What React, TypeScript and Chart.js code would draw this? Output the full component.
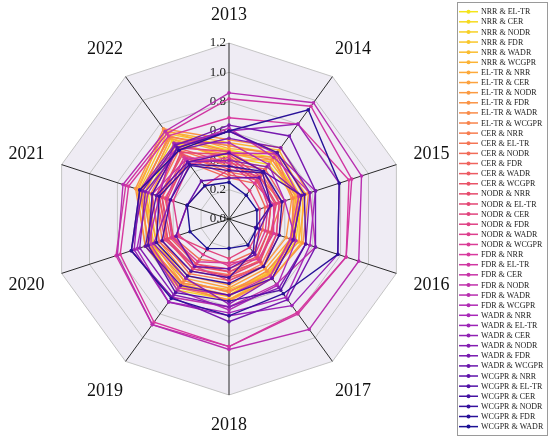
import React, { useEffect, useRef } from "react";
import { Chart, registerables } from "chart.js";

Chart.register(...registerables);

const FONT = "'Times New Roman', 'Liberation Serif', serif";

const years = ["2013", "2014", "2015", "2016", "2017", "2018", "2019", "2020", "2021", "2022"];
const tickValues = [0, 0.2, 0.4, 0.6, 0.8, 1.0, 1.2];

const seriesNames = [
  "NRR & EL-TR", "NRR & CER", "NRR & NODR", "NRR & FDR", "NRR & WADR", "NRR & WCGPR",
  "EL-TR & NRR", "EL-TR & CER", "EL-TR & NODR", "EL-TR & FDR", "EL-TR & WADR", "EL-TR & WCGPR",
  "CER & NRR", "CER & EL-TR", "CER & NODR", "CER & FDR", "CER & WADR", "CER & WCGPR",
  "NODR & NRR", "NODR & EL-TR", "NODR & CER", "NODR & FDR", "NODR & WADR", "NODR & WCGPR",
  "FDR & NRR", "FDR & EL-TR", "FDR & CER", "FDR & NODR", "FDR & WADR", "FDR & WCGPR",
  "WADR & NRR", "WADR & EL-TR", "WADR & CER", "WADR & NODR", "WADR & FDR", "WADR & WCGPR",
  "WCGPR & NRR", "WCGPR & EL-TR", "WCGPR & CER", "WCGPR & NODR", "WCGPR & FDR", "WCGPR & WADR",
];

// one row per series, one value per year (2013 ... 2022)
const nrrValues = [
  [0.47, 0.52, 0.50, 0.46, 0.44, 0.52, 0.58, 0.55, 0.62, 0.70],
  [0.42, 0.46, 0.47, 0.44, 0.46, 0.50, 0.52, 0.52, 0.58, 0.64],
  [0.40, 0.44, 0.52, 0.48, 0.48, 0.55, 0.60, 0.56, 0.60, 0.66],
  [0.50, 0.55, 0.51, 0.50, 0.45, 0.53, 0.57, 0.58, 0.64, 0.72],
  [0.45, 0.48, 0.49, 0.45, 0.47, 0.48, 0.54, 0.54, 0.60, 0.68],
  [0.52, 0.58, 0.53, 0.52, 0.50, 0.56, 0.56, 0.60, 0.66, 0.74],
];
const eltrValues = [
  [0.48, 0.56, 0.55, 0.50, 0.46, 0.52, 0.55, 0.57, 0.65, 0.75],
  [0.40, 0.50, 0.48, 0.44, 0.42, 0.47, 0.50, 0.52, 0.60, 0.68],
  [0.44, 0.52, 0.45, 0.41, 0.40, 0.45, 0.48, 0.50, 0.56, 0.62],
  [0.54, 0.60, 0.57, 0.53, 0.50, 0.55, 0.58, 0.60, 0.67, 0.76],
  [0.46, 0.50, 0.50, 0.47, 0.44, 0.50, 0.52, 0.55, 0.62, 0.70],
  [0.50, 0.54, 0.46, 0.45, 0.48, 0.49, 0.54, 0.58, 0.63, 0.69],
];
const cerValues = [
  [0.36, 0.38, 0.36, 0.34, 0.38, 0.42, 0.46, 0.48, 0.52, 0.58],
  [0.32, 0.35, 0.38, 0.30, 0.35, 0.38, 0.42, 0.45, 0.50, 0.55],
  [0.28, 0.30, 0.26, 0.24, 0.28, 0.30, 0.34, 0.40, 0.46, 0.48],
  [0.38, 0.42, 0.40, 0.36, 0.40, 0.40, 0.44, 0.50, 0.55, 0.60],
  [0.30, 0.33, 0.30, 0.28, 0.32, 0.34, 0.38, 0.42, 0.48, 0.52],
  [0.34, 0.36, 0.33, 0.31, 0.36, 0.36, 0.40, 0.44, 0.50, 0.54],
];
const nodrValues = [
  [0.40, 0.32, 0.30, 0.28, 0.33, 0.36, 0.38, 0.40, 0.44, 0.50],
  [0.44, 0.36, 0.34, 0.30, 0.36, 0.39, 0.42, 0.44, 0.48, 0.56],
  [0.34, 0.24, 0.22, 0.22, 0.24, 0.27, 0.26, 0.38, 0.30, 0.28],
  [0.46, 0.40, 0.36, 0.34, 0.40, 0.42, 0.40, 0.46, 0.52, 0.60],
  [0.42, 0.34, 0.28, 0.26, 0.30, 0.32, 0.30, 0.36, 0.40, 0.46],
  [0.38, 0.30, 0.32, 0.32, 0.34, 0.30, 0.36, 0.41, 0.45, 0.52],
];
const fdrValues = [
  [0.69, 0.80, 0.86, 0.84, 0.79, 0.87, 0.87, 0.78, 0.72, 0.70],
  [0.82, 0.95, 0.88, 0.84, 0.80, 0.87, 0.89, 0.81, 0.74, 0.72],
  [0.45, 0.55, 0.50, 0.44, 0.48, 0.52, 0.58, 0.56, 0.55, 0.50],
  [0.62, 0.52, 0.58, 0.62, 0.55, 0.60, 0.66, 0.70, 0.64, 0.60],
  [0.86, 0.98, 0.95, 0.93, 0.93, 0.89, 0.89, 0.80, 0.76, 0.74],
  [0.52, 0.46, 0.40, 0.48, 0.56, 0.62, 0.60, 0.58, 0.50, 0.64],
];
const wadrValues = [
  [0.60, 0.55, 0.62, 0.58, 0.66, 0.64, 0.70, 0.66, 0.58, 0.60],
  [0.60, 0.80, 0.79, 0.78, 0.73, 0.66, 0.70, 0.68, 0.64, 0.63],
  [0.40, 0.44, 0.52, 0.46, 0.50, 0.58, 0.50, 0.54, 0.42, 0.48],
  [0.55, 0.60, 0.58, 0.55, 0.58, 0.60, 0.64, 0.64, 0.60, 0.58],
  [0.64, 0.70, 0.62, 0.62, 0.68, 0.70, 0.66, 0.70, 0.62, 0.62],
  [0.28, 0.35, 0.30, 0.22, 0.30, 0.34, 0.40, 0.38, 0.30, 0.32],
];
const wcgprValues = [
  [0.45, 0.40, 0.52, 0.46, 0.50, 0.52, 0.56, 0.60, 0.52, 0.48],
  [0.60, 0.56, 0.54, 0.55, 0.60, 0.56, 0.62, 0.58, 0.55, 0.60],
  [0.33, 0.39, 0.30, 0.19, 0.28, 0.40, 0.44, 0.48, 0.42, 0.45],
  [0.36, 0.40, 0.38, 0.36, 0.40, 0.44, 0.48, 0.52, 0.50, 0.46],
  [0.60, 0.92, 0.79, 0.78, 0.63, 0.66, 0.67, 0.70, 0.64, 0.58],
  [0.25, 0.20, 0.20, 0.20, 0.22, 0.20, 0.25, 0.28, 0.30, 0.28],
];

const allValues = [
  ...nrrValues, ...eltrValues, ...cerValues, ...nodrValues, ...fdrValues, ...wadrValues, ...wcgprValues,
];

// colour ramp from yellow to dark blue, keyed by series index
const colorStops: [number, string][] = [
  [0, "#f4e41a"],
  [6, "#fda93a"],
  [12, "#f77d50"],
  [18, "#e64a6c"],
  [24, "#d8399e"],
  [30, "#a828b8"],
  [36, "#5e12aa"],
  [41, "#1c1194"],
];

function hexRgb(h: string) {
  return [1, 3, 5].map((k) => parseInt(h.slice(k, k + 2), 16));
}

function seriesColor(i: number) {
  for (let k = 0; k < colorStops.length - 1; k++) {
    const [a, ca] = colorStops[k];
    const [b, cb] = colorStops[k + 1];
    if (i >= a && i <= b) {
      const t = (i - a) / (b - a);
      const x = hexRgb(ca);
      const y = hexRgb(cb);
      const c = x.map((v, j) => Math.round(v + (y[j] - v) * t));
      return `rgb(${c[0]},${c[1]},${c[2]})`;
    }
  }
  return colorStops[colorStops.length - 1][1];
}

const radarDecor = {
  id: "radarDecor",
  beforeDraw(chart: any) {
    const scale = chart.scales.r;
    const ctx = chart.ctx;
    const outer = scale.getDistanceFromCenterForValue(scale.max);
    ctx.save();
    ctx.beginPath();
    years.forEach((_, i) => {
      const p = scale.getPointPosition(i, outer);
      if (i === 0) ctx.moveTo(p.x, p.y);
      else ctx.lineTo(p.x, p.y);
    });
    ctx.closePath();
    ctx.fillStyle = "#efecf4";
    ctx.fill();
    ctx.restore();
  },
  beforeDatasetsDraw(chart: any) {
    const scale = chart.scales.r;
    const ctx = chart.ctx;
    ctx.save();
    ctx.font = `13px ${FONT}`;
    ctx.fillStyle = "#1a1a1a";
    ctx.textAlign = "right";
    ctx.textBaseline = "middle";
    tickValues.forEach((v) => {
      const d = scale.getDistanceFromCenterForValue(v);
      ctx.fillText(v.toFixed(1), scale.xCenter - 3, scale.yCenter - d);
    });
    ctx.restore();
  },
  afterDraw(chart: any) {
    const scale = chart.scales.r;
    const ctx = chart.ctx;
    ctx.save();
    // year labels round the outside
    ctx.font = `18px ${FONT}`;
    ctx.fillStyle = "#111";
    ctx.textAlign = "center";
    ctx.textBaseline = "middle";
    years.forEach((y, i) => {
      const ang = (i * 2 * Math.PI) / years.length;
      const dist = 205 + 8 * Math.sqrt(Math.abs(Math.sin(ang)));
      const p = scale.getPointPosition(i, dist);
      ctx.fillText(y, p.x, p.y + 1);
    });

    // legend box
    ctx.strokeStyle = "#9a9a9a";
    ctx.lineWidth = 1;
    ctx.strokeRect(457.5, 2.5, 90, 433);
    ctx.font = `8px ${FONT}`;
    ctx.textAlign = "left";
    chart.data.datasets.forEach((ds: any, i: number) => {
      const y = 11.7 + i * 10.12;
      ctx.strokeStyle = ds.borderColor;
      ctx.lineWidth = 1.5;
      ctx.beginPath();
      ctx.moveTo(459, y);
      ctx.lineTo(478, y);
      ctx.stroke();
      ctx.fillStyle = ds.borderColor;
      ctx.beginPath();
      ctx.arc(468.5, y, 2, 0, Math.PI * 2);
      ctx.fill();
      ctx.fillStyle = "#1a1a1a";
      ctx.fillText(ds.label, 481, y + 0.5);
    });
    ctx.restore();
  },
};

const RadarChart: React.FC = () => {
  const chartRef = useRef<HTMLCanvasElement>(null);

  useEffect(() => {
    let myChart: Chart | null = null;
    if (chartRef.current) {
      const ctx = chartRef.current.getContext("2d");
      if (ctx) {
        myChart = new Chart(ctx, {
          type: "radar",
          data: {
            labels: years,
            datasets: allValues.map((vals, i) => ({
              label: seriesNames[i],
              data: vals,
              borderColor: seriesColor(i),
              backgroundColor: seriesColor(i),
              pointBackgroundColor: seriesColor(i),
              pointBorderColor: seriesColor(i),
              borderWidth: 1.4,
              pointRadius: 1.8,
              pointBorderWidth: 0,
              fill: false,
              order: allValues.length - 1 - i,
            })),
          },
          options: {
            responsive: false,
            animation: false,
            layout: { padding: { left: 53, right: 145, top: 43, bottom: 45 } },
            plugins: {
              legend: { display: false },
              tooltip: { enabled: false },
            },
            scales: {
              r: {
                min: 0,
                max: 1.2,
                ticks: { stepSize: 0.2, display: false },
                pointLabels: { display: false },
                grid: { color: "#c4c4c4", lineWidth: 1 },
                angleLines: { color: "#2a2a2a", lineWidth: 1 },
              },
            },
          },
          plugins: [radarDecor],
        });
      }
    }
    return () => {
      if (myChart) myChart.destroy();
    };
  }, []);

  return <canvas ref={chartRef} width={550} height={440} style={{ display: "block" }} />;
};

export default function App() {
  return (
    <div style={{ position: "absolute", left: 0, top: 0, width: 550, height: 440, background: "#fff" }}>
      <RadarChart />
    </div>
  );
}
